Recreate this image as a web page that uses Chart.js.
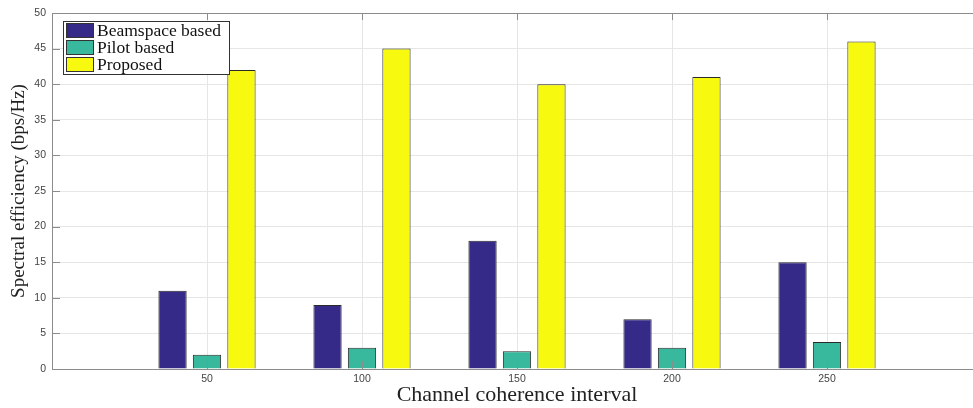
<!DOCTYPE html>
<html>
<head>
<meta charset="utf-8">
<script src="https://cdn.jsdelivr.net/npm/chart.js@4"></script>
<style>
  html, body { margin: 0; padding: 0; background: #fff; overflow: hidden; }
  #wrap { width: 990px; height: 408px; position: relative; }
</style>
</head>
<body>
<div id="wrap"><canvas id="c"></canvas></div>
<script>
const categories = [50, 100, 150, 200, 250];
const beamspaceValues = [11, 9, 18, 7, 15];
const pilotValues = [2, 3, 2.5, 3, 3.8];
const proposedValues = [42, 45, 40, 41, 46];
const seriesNames = ['Beamspace based', 'Pilot based', 'Proposed'];
const seriesColors = ['#352A87', '#38B99E', '#F7F90E'];
const yTickValues = [0, 5, 10, 15, 20, 25, 30, 35, 40, 45, 50];
const xTitle = 'Channel coherence interval';
const yTitle = 'Spectral efficiency (bps/Hz)';

function toPoints(vals) { return categories.map((c, i) => ({ x: c, y: vals[i] })); }

const frame = {
  id: 'frame',
  afterDraw(chart) {
    const { ctx, chartArea: a, scales: { x, y } } = chart;
    ctx.save();
    ctx.strokeStyle = '#8c8c8c';
    ctx.lineWidth = 1;
    ctx.beginPath();
    ctx.moveTo(a.left, Math.round(a.top) + 0.5);
    ctx.lineTo(a.right, Math.round(a.top) + 0.5);
    ctx.stroke();
    ctx.beginPath();
    yTickValues.forEach(v => {
      const py = Math.round(y.getPixelForValue(v)) + 0.5;
      ctx.moveTo(a.left, py); ctx.lineTo(a.left + 8, py);
    });
    categories.forEach(v => {
      const px = Math.round(x.getPixelForValue(v)) + 0.5;
      ctx.moveTo(px, a.bottom); ctx.lineTo(px, a.bottom - 8);
      ctx.moveTo(px, a.top); ctx.lineTo(px, a.top + 7);
    });
    ctx.stroke();

    // legend
    const lx = 63, ly = 21, lw = 166, lh = 53;
    ctx.fillStyle = '#fff';
    ctx.fillRect(lx, ly, lw, lh);
    ctx.strokeStyle = '#333';
    ctx.strokeRect(lx + 0.5, ly + 0.5, lw, lh);
    ctx.font = '17.5px "Liberation Serif", "Times New Roman", serif';
    ctx.textBaseline = 'middle';
    chart.data.datasets.forEach((ds, i) => {
      const ry = ly + 2 + i * 17;
      ctx.fillStyle = ds.backgroundColor;
      ctx.fillRect(lx + 3, ry, 27, 14);
      ctx.strokeStyle = '#333';
      ctx.strokeRect(lx + 3.5, ry + 0.5, 27, 14);
      ctx.fillStyle = '#111';
      ctx.fillText(ds.label, lx + 34, ry + 8);
    });
    ctx.restore();
  }
};

new Chart(document.getElementById('c'), {
  type: 'bar',
  data: {
    datasets: [
      { label: seriesNames[0], data: toPoints(beamspaceValues), backgroundColor: seriesColors[0] },
      { label: seriesNames[1], data: toPoints(pilotValues), backgroundColor: seriesColors[1] },
      { label: seriesNames[2], data: toPoints(proposedValues), backgroundColor: seriesColors[2] }
    ]
  },
  options: {
    responsive: true,
    maintainAspectRatio: false,
    animation: false,
    layout: { padding: { left: 0, top: 13, right: 8, bottom: 0 } },
    datasets: {
      bar: { borderColor: '#2a2a2a', borderWidth: 1, categoryPercentage: 0.667, barPercentage: 0.82 }
    },
    plugins: { legend: { display: false }, tooltip: { enabled: false } },
    scales: {
      x: {
        type: 'linear',
        min: 0, max: 300,
        offset: false,
        afterFit: s => { s.height = 39; },
        ticks: {
          stepSize: 50,
          autoSkip: false,
          maxRotation: 0,
          padding: 4,
          color: '#444',
          font: { family: '"Liberation Sans", Arial, sans-serif', size: 10.5 },
          callback: v => categories.includes(v) ? String(v) : ''
        },
        grid: { color: '#e6e6e6', drawTicks: false, offset: false },
        border: { color: '#8c8c8c' },
        title: {
          display: true, text: xTitle, color: '#222',
          font: { family: '"Liberation Serif", "Times New Roman", serif', size: 22 },
          padding: { top: 0, bottom: 0 }
        }
      },
      y: {
        min: 0, max: 50,
        afterFit: s => { s.width = 52; },
        ticks: {
          stepSize: 5,
          padding: 6,
          color: '#444',
          font: { family: '"Liberation Sans", Arial, sans-serif', size: 10.5 }
        },
        grid: { color: '#e6e6e6', drawTicks: false },
        border: { color: '#8c8c8c' },
        title: {
          display: true, text: yTitle, color: '#222',
          font: { family: '"Liberation Serif", "Times New Roman", serif', size: 19 },
          padding: { top: 8, bottom: 0 }
        }
      }
    }
  },
  plugins: [frame]
});
</script>
</body>
</html>
